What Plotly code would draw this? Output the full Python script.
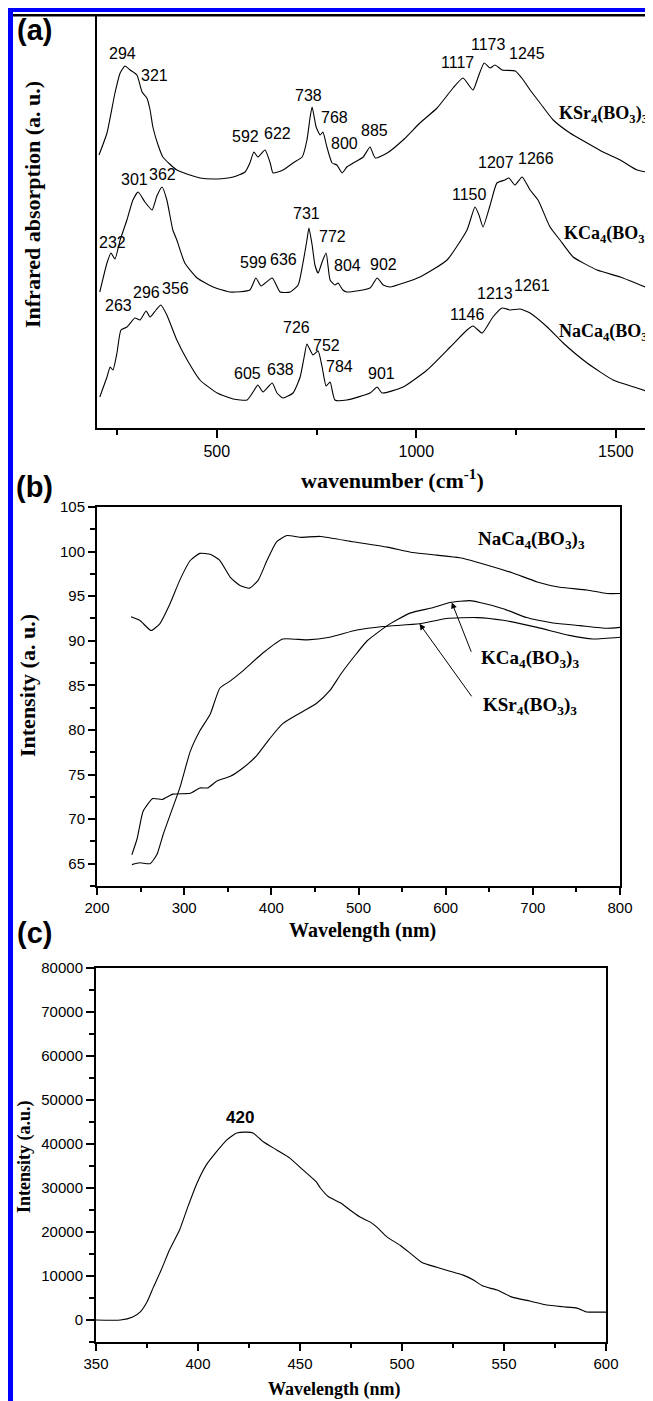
import plotly.graph_objects as go

# ---------------- Panel (a): IR absorption spectra (stacked, a.u.) ----------------
ksr_wn = [205, 225, 245, 258, 270, 283, 300, 313, 325, 333, 340, 353, 365, 400, 458, 501, 541, 571, 583, 593,
          603, 621, 634, 641, 666, 691, 714, 726, 734, 739, 749, 759, 766, 776, 789, 801, 814, 826, 842, 867,
          884, 897, 927, 967, 1009, 1052, 1092, 1117, 1142, 1155, 1170, 1185, 1197, 1215, 1248, 1268, 1285,
          1310, 1343, 1385, 1428, 1468, 1511, 1553, 1592]
ksr_abs = [2.73, 2.95, 3.35, 3.55, 3.62, 3.58, 3.53, 3.36, 3.30, 3.18, 3.01, 2.83, 2.71, 2.58, 2.50, 2.49, 2.51,
           2.56, 2.65, 2.76, 2.71, 2.78, 2.65, 2.55, 2.58, 2.65, 2.71, 2.88, 3.11, 3.21, 3.01, 2.93, 2.96, 2.81,
           2.65, 2.63, 2.55, 2.61, 2.65, 2.71, 2.81, 2.70, 2.75, 2.88, 3.05, 3.20, 3.40, 3.50, 3.38, 3.51, 3.65,
           3.60, 3.63, 3.58, 3.57, 3.48, 3.38, 3.25, 3.08, 2.95, 2.85, 2.76, 2.68, 2.58, 2.55]

kca_wn = [207, 225, 235, 245, 258, 275, 290, 303, 320, 338, 350, 363, 375, 390, 400, 420, 451, 491, 533, 583,
          598, 611, 639, 659, 684, 704, 716, 726, 731, 739, 746, 754, 764, 774, 784, 796, 804, 816, 826, 884,
          902, 917, 934, 1009, 1077, 1127, 1147, 1157, 1167, 1185, 1202, 1222, 1232, 1247, 1265, 1285, 1305,
          1335, 1360, 1393, 1453, 1511, 1561, 1592]
kca_abs = [1.36, 1.65, 1.75, 1.69, 1.88, 2.08, 2.28, 2.36, 2.26, 2.18, 2.32, 2.41, 2.28, 1.98, 1.88, 1.65, 1.50,
           1.41, 1.36, 1.38, 1.50, 1.42, 1.50, 1.36, 1.36, 1.43, 1.65, 1.88, 2.00, 1.83, 1.63, 1.55, 1.66, 1.75,
           1.48, 1.43, 1.45, 1.38, 1.36, 1.40, 1.50, 1.43, 1.41, 1.51, 1.68, 1.98, 2.21, 2.13, 2.01, 2.23, 2.45,
           2.48, 2.50, 2.43, 2.51, 2.38, 2.28, 2.01, 1.88, 1.71, 1.58, 1.51, 1.43, 1.38]

naca_wn = [207, 225, 233, 240, 250, 260, 275, 295, 308, 323, 333, 348, 360, 375, 400, 426, 458, 501, 541, 576,
           591, 603, 616, 639, 651, 666, 691, 709, 719, 726, 741, 754, 764, 774, 784, 796, 826, 884, 902, 914,
           967, 1027, 1085, 1127, 1142, 1165, 1192, 1215, 1235, 1260, 1285, 1328, 1368, 1428, 1493, 1553, 1592]
naca_abs = [0.31, 0.51, 0.61, 0.58, 0.75, 0.98, 1.01, 1.10, 1.08, 1.17, 1.11, 1.18, 1.23, 1.13, 0.88, 0.68, 0.48,
            0.35, 0.29, 0.28, 0.36, 0.43, 0.36, 0.45, 0.35, 0.30, 0.35, 0.51, 0.71, 0.84, 0.73, 0.77, 0.61, 0.42,
            0.46, 0.28, 0.28, 0.35, 0.41, 0.35, 0.41, 0.58, 0.81, 0.98, 1.02, 0.95, 1.11, 1.20, 1.18, 1.19, 1.15,
            1.01, 0.85, 0.65, 0.48, 0.40, 0.35]

ir_tick_major = [500, 1000, 1500]
ir_tick_minor = [250, 750, 1250]

# peak labels: text and placement (wavenumber, a.u.)
peak_text = ["294", "321", "592", "622", "738", "768", "800", "885", "1117", "1173", "1245",
             "301", "362", "232", "599", "636", "731", "772", "804", "902", "1150", "1207", "1266",
             "263", "296", "356", "605", "638", "726", "752", "784", "901", "1146", "1213", "1261"]
peak_x = [263, 343, 571, 651, 731, 794, 819, 894, 1102, 1180, 1278,
          295, 365, 238, 591, 666, 724, 789, 827, 917, 1132, 1200, 1300,
          253, 323, 396, 578, 659, 701, 776, 807, 914, 1127, 1197, 1290]
peak_y = [3.75, 3.53, 2.92, 2.95, 3.33, 3.11, 2.85, 2.98, 3.66, 3.84, 3.75,
          2.49, 2.54, 1.86, 1.66, 1.69, 2.15, 1.92, 1.63, 1.64, 2.34, 2.66, 2.70,
          1.23, 1.36, 1.40, 0.55, 0.59, 1.01, 0.83, 0.62, 0.55, 1.14, 1.35, 1.43]

compounds = ["KSr<sub>4</sub>(BO<sub>3</sub>)<sub>3</sub>",
             "KCa<sub>4</sub>(BO<sub>3</sub>)<sub>3</sub>",
             "NaCa<sub>4</sub>(BO<sub>3</sub>)<sub>3</sub>"]
compound_a_x = [1353, 1365, 1353]
compound_a_y = [3.14, 1.94, 0.96]

# ---------------- Panel (b): diffuse reflectance (Intensity a.u.) ----------------
naca_b_nm = [239, 249, 262, 272, 284, 295, 307, 318, 330, 341, 353, 364, 375, 385, 395, 406, 418, 433, 456, 494,
             533, 562, 590, 616, 647, 677, 705, 731, 762, 785, 800]
naca_b = [92.7, 92.3, 91.15, 91.9, 94.2, 96.8, 99.0, 99.8, 99.7, 99.0, 97.1, 96.2, 95.9, 96.8, 99.0, 101.1, 101.8,
          101.6, 101.7, 101.1, 100.5, 99.9, 99.6, 99.3, 98.5, 97.6, 96.6, 96.0, 95.7, 95.3, 95.3]

kca_b_nm = [240, 246, 253, 264, 275, 287, 307, 318, 327, 338, 353, 367, 383, 398, 413, 433, 452, 467, 480, 498,
            510, 533, 559, 585, 605, 628, 639, 666, 693, 723, 754, 785, 800]
kca_b = [66.0, 67.8, 70.9, 72.3, 72.2, 72.8, 72.9, 73.5, 73.5, 74.3, 74.8, 75.7, 77.1, 79.0, 80.7, 81.9, 83.0,
         84.4, 86.3, 88.6, 90.0, 91.7, 93.1, 93.7, 94.3, 94.5, 94.3, 93.6, 92.6, 92.0, 91.7, 91.4, 91.5]

ksr_b_nm = [240, 249, 261, 269, 276, 284, 295, 307, 318, 330, 341, 353, 367, 390, 413, 441, 467, 498, 528, 570,
            601, 636, 666, 705, 742, 769, 800]
ksr_b = [64.9, 65.1, 65.0, 66.1, 68.3, 70.5, 73.5, 77.6, 79.9, 81.8, 84.7, 85.5, 86.6, 88.6, 90.2, 90.1, 90.4,
         91.2, 91.6, 91.9, 92.5, 92.6, 92.3, 91.5, 90.6, 90.2, 90.4]

compound_b_x = [699, 697, 697]          # NaCa, KCa, KSr label centres
compound_b_y = [101.3, 88.0, 82.7]
arrow_head = [(607, 94.3), (570, 91.9)]  # KCa, KSr
arrow_tail = [(630, 88.6), (631, 83.6)]

# ---------------- Panel (c): photoluminescence ----------------
pl_nm = [350, 362, 368, 371.6, 375, 378, 382, 386, 391, 395, 399.5, 404, 409, 414, 419, 424, 427, 432, 438.7, 445,
         451.5, 458, 460, 464, 470, 474.5, 479.4, 484.3, 487.7, 492.6, 499, 504, 510, 517, 523.5, 530, 535, 539.7,
         546.6, 554, 562.7, 571, 579, 585.8, 590.7, 593.6, 600]
pl_int = [0, 0, 700, 1800, 4100, 7300, 11400, 15900, 20500, 25700, 31100, 35200, 38200, 40900, 42500, 42700,
          42500, 40500, 38600, 36800, 34100, 31400, 30000, 28000, 26600, 25000, 23400, 22300, 21100, 18900, 17000,
          15200, 13000, 12000, 11100, 10200, 9100, 7700, 6800, 5200, 4300, 3400, 3000, 2700, 1800, 1800, 1800]
pl_peak_label = "420"
pl_peak_pos = (420.6, 46100)

# ---------------- figure ----------------
PAGE_W, PAGE_H = 653, 1401
OFF = 8  # default page (body) margin in the browser
W, H = PAGE_W - OFF, PAGE_H - OFF
SERIF = "Liberation Serif, Times New Roman, serif"
SANS = "Liberation Sans, Arial, sans-serif"

fig = go.Figure()
ln = dict(color="black", width=1.1, shape="spline", smoothing=0.5)
for xs, ys in [(ksr_wn, ksr_abs), (kca_wn, kca_abs), (naca_wn, naca_abs)]:
    fig.add_trace(go.Scatter(x=xs, y=ys, mode="lines", line=ln, xaxis="x", yaxis="y", hoverinfo="skip"))
for xs, ys in [(naca_b_nm, naca_b), (kca_b_nm, kca_b), (ksr_b_nm, ksr_b)]:
    fig.add_trace(go.Scatter(x=xs, y=ys, mode="lines", line=ln, xaxis="x2", yaxis="y2", hoverinfo="skip"))
fig.add_trace(go.Scatter(x=pl_nm, y=pl_int, mode="lines", line=ln, xaxis="x3", yaxis="y3", hoverinfo="skip"))


def py(p):  # page pixel row -> paper y
    return 1 - (p - OFF) / H


def px(p):  # page pixel column -> paper x
    return (p - OFF) / W


axcommon = dict(showgrid=False, zeroline=False, showline=True, linecolor="black", linewidth=2,
                ticks="outside", tickcolor="black", tickwidth=1.5, automargin=False)

fig.update_layout(
    template="none", autosize=False,
    width=W, height=H, margin=dict(l=0, r=0, t=0, b=0, pad=0, autoexpand=False),
    paper_bgcolor="white", plot_bgcolor="white", showlegend=False,
    xaxis=dict(**axcommon, domain=[px(97), 1.0], range=[200, 1593], anchor="y",
               tickvals=ir_tick_major, ticklen=8,
               minor=dict(tickvals=ir_tick_minor, ticks="outside", ticklen=5, tickcolor="black", tickwidth=1.5),
               tickfont=dict(family=SANS, size=16, color="black")),
    yaxis=dict(showgrid=False, zeroline=False, showline=True, linecolor="black", linewidth=2, automargin=False,
               domain=[py(428), py(15)], range=[0, 4.13], anchor="x", showticklabels=False, ticks=""),
    xaxis2=dict(**axcommon, mirror=True, domain=[px(97), px(620)], range=[200, 800], anchor="y2",
                tick0=200, dtick=100, ticklen=7,
                minor=dict(dtick=50, ticks="outside", ticklen=4, tickcolor="black", tickwidth=1.5),
                tickfont=dict(family=SANS, size=15, color="black")),
    yaxis2=dict(**axcommon, mirror=True, domain=[py(886), py(507)], range=[62.5, 105], anchor="x2",
                tick0=65, dtick=5, ticklen=7,
                minor=dict(dtick=2.5, ticks="outside", ticklen=5, tickcolor="black", tickwidth=1.5),
                tickfont=dict(family=SANS, size=15, color="black")),
    xaxis3=dict(**axcommon, mirror=True, domain=[px(96), px(606)], range=[350, 600], anchor="y3",
                tick0=350, dtick=50, ticklen=7,
                minor=dict(dtick=25, ticks="outside", ticklen=4, tickcolor="black", tickwidth=1.5),
                tickfont=dict(family=SANS, size=15, color="black")),
    yaxis3=dict(**axcommon, mirror=True, domain=[py(1342), py(968)], range=[-5000, 80000], anchor="x3",
                tick0=0, dtick=10000, ticklen=8, tickformat="d",
                minor=dict(dtick=5000, ticks="outside", ticklen=5, tickcolor="black", tickwidth=1.5),
                tickfont=dict(family=SANS, size=15, color="black")),
)

ann = []
# panel letters
for lab, yc in [("(a)", 30), ("(b)", 487), ("(c)", 933)]:
    ann.append(dict(text=f"<b>{lab}</b>", x=px(34), y=py(yc), xref="paper", yref="paper", showarrow=False,
                    xanchor="center", yanchor="middle", font=dict(family=SANS, size=29, color="black")))
# axis titles
titles = [
    ("<b>wavenumber (cm<sup>-1</sup>)</b>", 392, 479, 0, 22),
    ("<b>Infrared absorption (a. u.)</b>", 33, 205, -90, 22),
    ("<b>Wavelength (nm)</b>", 362, 930, 0, 20),
    ("<b>Intensity (a. u.)</b>", 27, 686, -90, 22),
    ("<b>Wavelength (nm)</b>", 334, 1389, 0, 18),
    ("<b>Intensity (a.u.)</b>", 24, 1157, -90, 18),
]
for t, xc, yc, rot, fs in titles:
    ann.append(dict(text=t, x=px(xc), y=py(yc), xref="paper", yref="paper", showarrow=False, textangle=rot,
                    xanchor="center", yanchor="middle", font=dict(family=SERIF, size=fs, color="black")))
# panel (a) peak labels
for t, xv, yv in zip(peak_text, peak_x, peak_y):
    ann.append(dict(text=t, x=xv, y=yv, xref="x", yref="y", showarrow=False, xanchor="center",
                    yanchor="middle", font=dict(family=SANS, size=16, color="black")))
# panel (a) compound labels
for t, xv, yv in zip(compounds, compound_a_x, compound_a_y):
    ann.append(dict(text=f"<b>{t}</b>", x=xv, y=yv, xref="x", yref="y", showarrow=False, xanchor="left",
                    yanchor="middle", font=dict(family=SERIF, size=18, color="black")))
# panel (b) compound labels: NaCa, KCa, KSr
for t, xv, yv in zip([compounds[2], compounds[1], compounds[0]], compound_b_x, compound_b_y):
    ann.append(dict(text=f"<b>{t}</b>", x=xv, y=yv, xref="x2", yref="y2", showarrow=False, xanchor="center",
                    yanchor="middle", font=dict(family=SERIF, size=19, color="black")))
for (hx, hy), (tx, ty) in zip(arrow_head, arrow_tail):
    ann.append(dict(text="", x=hx, y=hy, xref="x2", yref="y2", ax=tx, ay=ty, axref="x2", ayref="y2",
                    showarrow=True, arrowhead=2, arrowsize=1.2, arrowwidth=1, arrowcolor="black", standoff=0))
# panel (c) peak label
ann.append(dict(text=f"<b>{pl_peak_label}</b>", x=pl_peak_pos[0], y=pl_peak_pos[1], xref="x3", yref="y3",
                showarrow=False, xanchor="center", yanchor="middle", font=dict(family=SANS, size=17, color="black")))
fig.update_layout(annotations=ann)

# page border (blue frame + black rule)
shapes = [
    dict(type="rect", xref="paper", yref="paper", x0=px(8), x1=1.0, y0=py(12), y1=1.0,
         fillcolor="#0000ff", line=dict(width=0), layer="above"),
    dict(type="rect", xref="paper", yref="paper", x0=px(8), x1=px(13), y0=0, y1=1.0,
         fillcolor="#0000ff", line=dict(width=0), layer="above"),
    dict(type="rect", xref="paper", yref="paper", x0=px(13), x1=1.0, y0=py(16.5), y1=py(14),
         fillcolor="black", line=dict(width=0), layer="above"),
]
fig.update_layout(shapes=shapes)

fig.write_html("out.html")
